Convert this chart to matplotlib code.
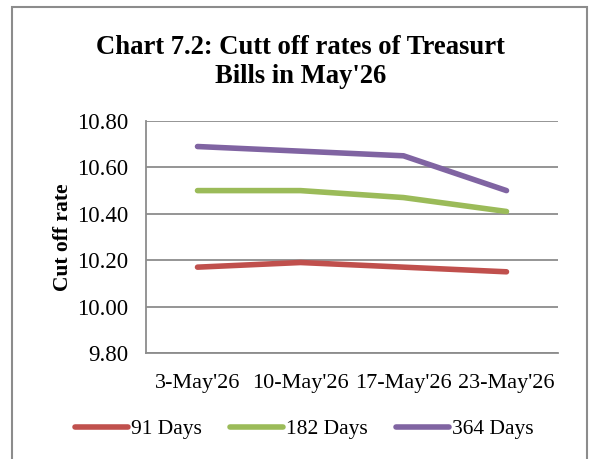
import matplotlib.pyplot as plt
from matplotlib.patches import Rectangle

# Data
dates = ["3-May'26", "10-May'26", "17-May'26", "23-May'26"]
days_91 = [10.17, 10.19, 10.17, 10.15]
days_182 = [10.50, 10.50, 10.47, 10.41]
days_364 = [10.69, 10.67, 10.65, 10.50]
yticks = [9.80, 10.00, 10.20, 10.40, 10.60, 10.80]

plt.rcParams['font.family'] = ['Liberation Serif', 'DejaVu Serif']

W, H = 592, 459
fig = plt.figure(figsize=(W / 100, H / 100), dpi=100)

# outer chart border
fig.patches.append(Rectangle((12 / W, -0.05), (587 - 12) / W, (H - 7) / H + 0.05,
                             transform=fig.transFigure, fill=False,
                             edgecolor='#8c8c8c', linewidth=1.5))

ax = fig.add_axes([146 / W, 1 - 353 / H, (558 - 146) / W, (353 - 121) / H])

x = range(len(dates))
ax.plot(x, days_91, color='#C0504D', lw=4, solid_capstyle='round', label='91 Days')
ax.plot(x, days_182, color='#9BBB59', lw=4, solid_capstyle='round', label='182 Days')
ax.plot(x, days_364, color='#8064A2', lw=4, solid_capstyle='round', label='364 Days')

ax.set_xlim(-0.5, 3.5)
ax.set_ylim(9.80, 10.80)
ax.set_yticks(yticks)
ax.set_yticklabels([f'{v:.2f}' for v in yticks], fontsize=16.5)
ax.set_xticks(list(x))
ax.set_xticklabels(dates, fontsize=16)
ax.tick_params(length=0)
ax.tick_params(axis='y', pad=13)
ax.tick_params(axis='x', pad=15)
ax.grid(axis='y', color='#8c8c8c', lw=1.3)
ax.set_axisbelow(True)
for s in ['top', 'right']:
    ax.spines[s].set_visible(False)
for s in ['left', 'bottom']:
    ax.spines[s].set_color('#8c8c8c')
    ax.spines[s].set_linewidth(1.3)

ax.set_ylabel('Cut off rate', fontsize=15.5, fontweight='bold', labelpad=3)

fig.text(0.507, 1 - 62 / H, "Chart 7.2: Cutt off rates of Treasurt\nBills in May'26",
         ha='center', va='center', fontsize=19.2, fontweight='bold', linespacing=1.18)

fig.legend(loc='center', bbox_to_anchor=(0.514, 1 - 429 / H), ncol=3, frameon=False,
           fontsize=15.5, handlelength=2.45, handletextpad=0.15, columnspacing=1.3)

fig.savefig('out.png', dpi=100)
